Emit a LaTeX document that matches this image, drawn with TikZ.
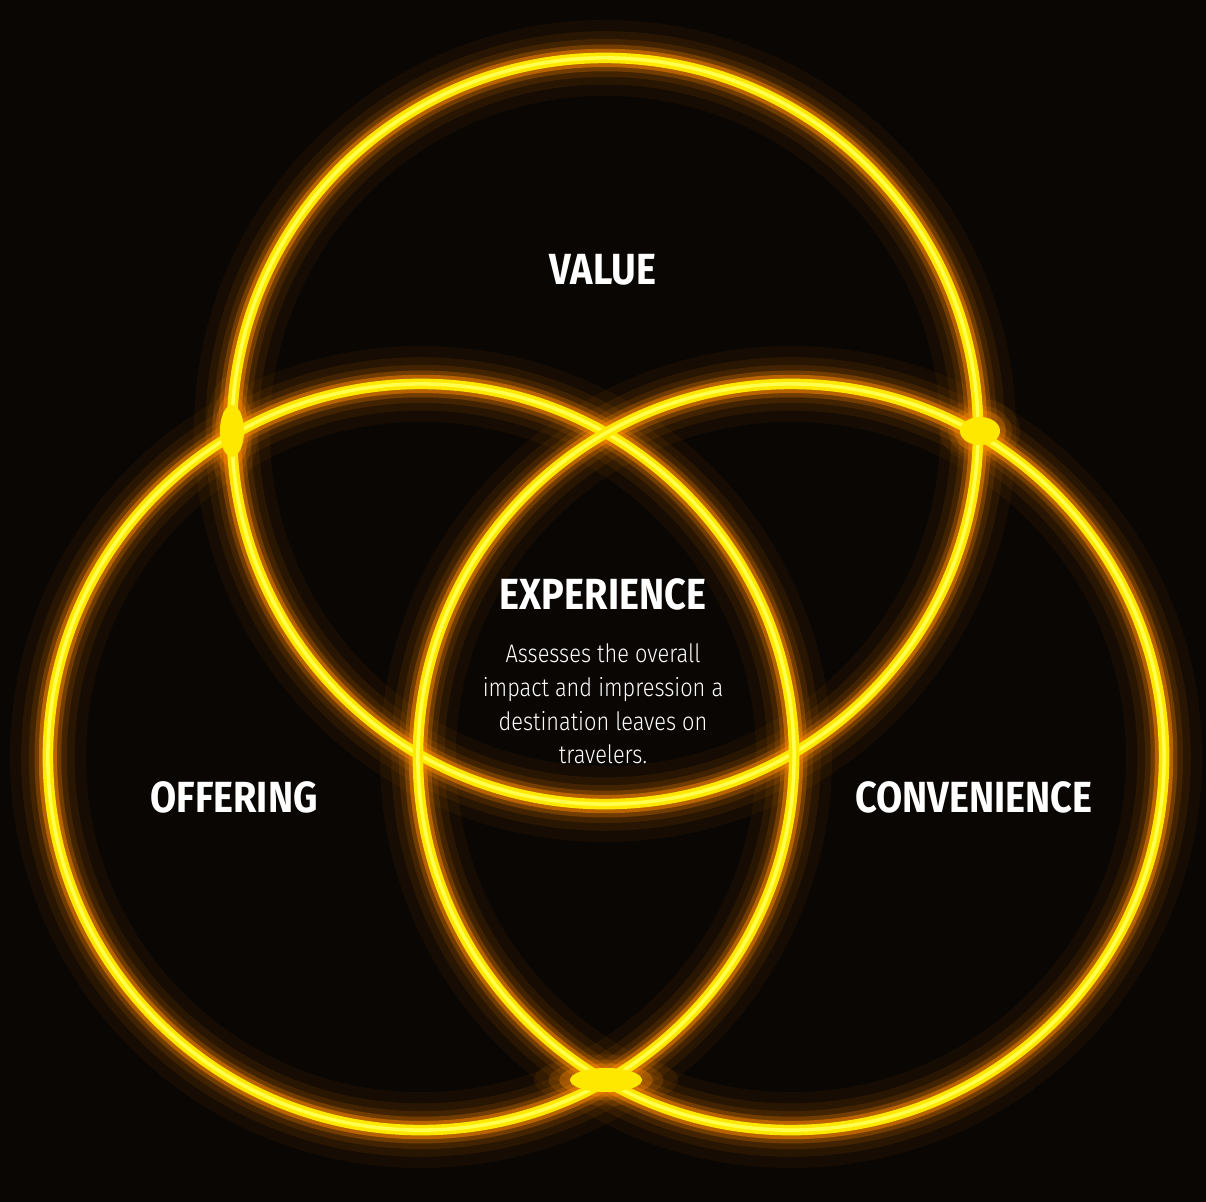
\documentclass[tikz,border=0pt]{standalone}
\usepackage{fontspec}
\usepackage{tikz}
\newfontfamily\headfont[FakeStretch=0.87]{Fira Sans}
\newfontfamily\bodyfont[FakeStretch=0.86]{Fira Sans Light}
\definecolor{bgdark}{HTML}{0A0604}
\definecolor{haloorange}{HTML}{FF8A00}
\definecolor{ringyellow}{HTML}{FFE800}
\definecolor{coreyellow}{HTML}{FFFF50}

\begin{document}
\begin{tikzpicture}[x=0.025cm,y=-0.025cm,
                    every node/.style={text=white,align=center},
                    title/.style={font=\headfont\bfseries\fontsize{31}{31}\selectfont},
                    note/.style={font=\bodyfont\fontsize{18}{23.9}\selectfont},
                    flare/.style={fill=ringyellow}]
  \fill[bgdark] (0,0) rectangle (1206,1202);
  \useasboundingbox (0,0) rectangle (1206,1202);

  % circle centres
  \coordinate (V) at (605,431);
  \coordinate (O) at (421,757);
  \coordinate (C) at (791,757);
  % outer crossings
  \coordinate (VO) at (232,431);
  \coordinate (VC) at (980,431);
  \coordinate (OC) at (606,1080);

  % glow, outside in
  \foreach \w/\o in {54/0.05,38/0.08,27/0.12,19/0.25,13/0.5}{
    \foreach \c in {V,O,C}
      \draw[haloorange,line width=\w pt,opacity=\o] (\c) circle[radius=9.325cm];
  }
  % flares where the rings cross
  \foreach \s/\o in {2/0.08,1.6/0.15,1.3/0.3}{
    \fill[haloorange,opacity=\o] (VO) ellipse[x radius=\s*0.32cm,y radius=\s*0.7cm];
    \fill[haloorange,opacity=\o] (VC) ellipse[x radius=\s*0.5cm,y radius=\s*0.4cm];
    \fill[haloorange,opacity=\o] (OC) ellipse[x radius=\s*0.9cm,y radius=\s*0.32cm];
  }
  \foreach \c in {V,O,C}{
    \draw[ringyellow,line width=7.5pt] (\c) circle[radius=9.325cm];
    \draw[coreyellow,line width=2.5pt] (\c) circle[radius=9.325cm];
  }
  \fill[flare] (VO) ellipse[x radius=0.3cm,y radius=0.65cm];
  \fill[flare] (VC) ellipse[x radius=0.5cm,y radius=0.35cm];
  \fill[flare] (OC) ellipse[x radius=0.9cm,y radius=0.3cm];

  \node[title] (value)       at (603,270) {VALUE};
  \node[title] (offering)    at (234,797) {OFFERING};
  \node[title] (convenience) at (974,797) {CONVENIENCE};
  \node[title] (experience)  at (603,594) {EXPERIENCE};
  \node[note]  (summary)     at (603,704) {Assesses the overall\\impact and impression a\\destination leaves on\\travelers.};
\end{tikzpicture}
\end{document}
